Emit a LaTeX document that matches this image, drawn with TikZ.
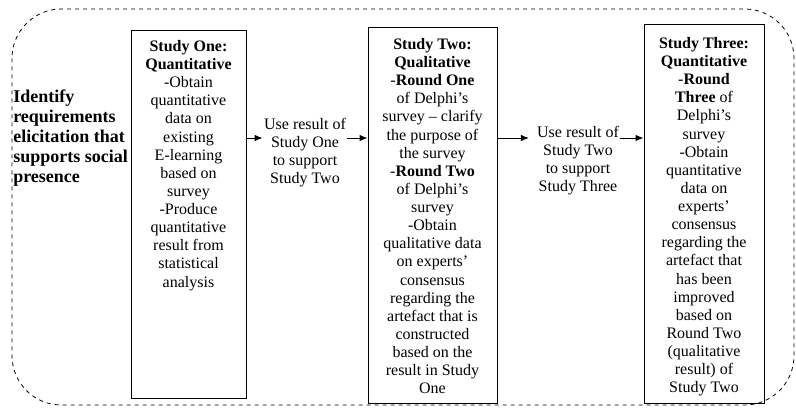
\documentclass[tikz,border=0pt]{standalone}
\usepackage{fontspec}
\setmainfont{Liberation Serif}
\usetikzlibrary{arrows.meta}
\begin{document}
\begin{tikzpicture}[x=0.75pt, y=-0.75pt,
    study/.style={draw, line width=0.75pt, inner sep=0pt},
    txt/.style={align=center, inner sep=0pt, font=\fontsize{12}{13.6}\selectfont},
    mid/.style={align=center, inner sep=1pt, font=\fontsize{12}{13.4}\selectfont},
    arr/.style={-{Latex[length=6pt,width=5pt]}, line width=0.75pt}]
    \useasboundingbox (0,0) rectangle (796,408);
    \draw[dashed, line width=0.6pt, rounded corners=37pt] (12,9) rectangle (794,405);
    % goal on the left
    \node[anchor=west, align=left, inner sep=0pt, font=\bfseries\fontsize{13.5}{15}\selectfont] (goal) at (13,138)
        {Identify\\requirements\\elicitation that\\supports social\\presence};
    % the three studies
    \node[study, minimum width=86.25pt, minimum height=276pt] (s1) at (188.5,214) {};
    \node[study, minimum width=96.75pt, minimum height=282pt] (s2) at (432.5,215) {};
    \node[study, minimum width=90pt, minimum height=284.25pt] (s3) at (704,213.5) {};
    \node[txt, anchor=north] (t1) at (s1.north |- 0,40) {\textbf{Study One:}\\\textbf{Quantitative}\\-Obtain\\quantitative\\data on\\existing\\E-learning\\based on\\survey\\-Produce\\quantitative\\result from\\statistical\\analysis};
    \node[txt, anchor=north] (t2) at (s2.north |- 0,38) {\textbf{Study Two:}\\\textbf{Qualitative}\\-\textbf{Round One}\\of Delphi’s\\survey – clarify\\the purpose of\\the survey\\-\textbf{Round Two}\\of Delphi’s\\survey\\-Obtain\\qualitative data\\on experts’\\consensus\\regarding the\\artefact that is\\constructed\\based on the\\result in Study\\One};
    \node[txt, anchor=north] (t3) at (s3.north |- 0,37) {\textbf{Study Three:}\\\textbf{Quantitative}\\-\textbf{Round}\\\textbf{Three} of\\Delphi’s\\survey\\-Obtain\\quantitative\\data on\\experts’\\consensus\\regarding the\\artefact that\\has been\\improved\\based on\\Round Two\\(qualitative\\result) of\\Study Two};
    % links
    \node[mid] (m1) at (305,152.5) {Use result of\\Study One\\to support\\Study Two};
    \node[mid] (m2) at (578,160.5) {Use result of\\Study Two\\to support\\Study Three};
    \coordinate (a) at (0,138);
    \draw[arr] (s1.east |- a) -- (m1.west |- a);
    \draw[arr] (m1.east |- a) -- (s2.west |- a);
    \draw[arr] (s2.east |- a) -- ([xshift=-5pt]m2.west |- a);
    \draw[arr] (m2.east |- a) -- (s3.west |- a);
\end{tikzpicture}
\end{document}
